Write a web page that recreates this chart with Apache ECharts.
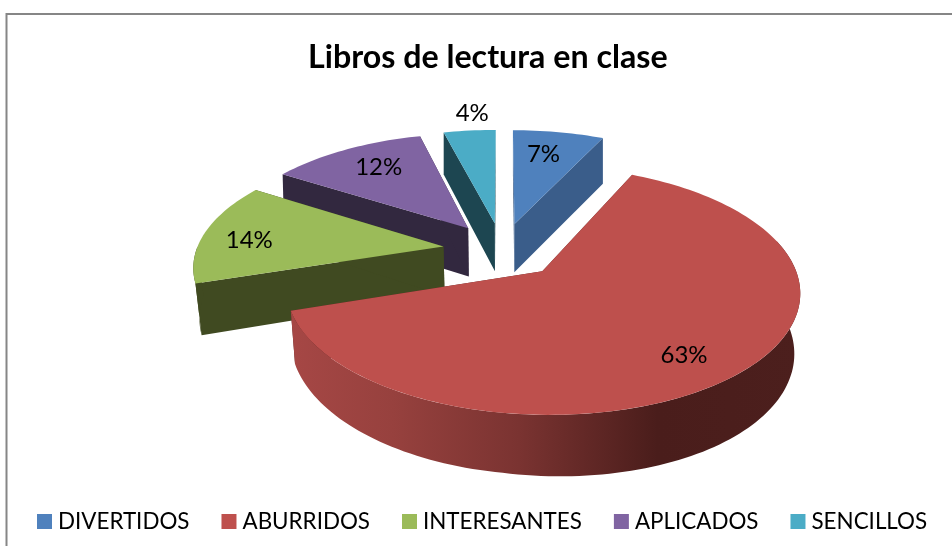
<!DOCTYPE html>
<html>
<head>
<meta charset="utf-8">
<style>html,body{margin:0;padding:0;background:#fff}#c{width:952px;height:546px}</style>
<script src="https://cdn.jsdelivr.net/npm/echarts@6/dist/echarts.min.js"></script>
</head>
<body>
<div id="c"></div>
<script>
const categories = ['DIVERTIDOS', 'ABURRIDOS', 'INTERESANTES', 'APLICADOS', 'SENCILLOS'];
const values = [7, 63, 14, 12, 4];
const topColors = ['#4F81BD', '#BE504D', '#9BBB59', '#8064A2', '#4BACC6'];
const sideColors = ['#3A5D8A', '#5A2624', '#404A21', '#32283F', '#1D4651'];
const labelRadius = [0.7, 0.76, 0.85, 0.75, 1.3];
const labelShift = [[-3, -3], [-2, 8], [9, 6], [5, -1], [9, 6]];

const view = { cx: 502, cy: 250, rx: 247, ry: 115, k: 0.15, explode: 0.24, depth: 49.5, bottomScale: 0.98, skew: 7 };
const total = values.reduce((a, b) => a + b, 0);
const rad = d => d * Math.PI / 180;

function project(u, v, bottom) {
  const s = 1 / (1 + view.k * v);
  let x = view.cx + view.rx * u * s;
  let y = view.cy - view.ry * v * s;
  if (bottom) {
    const scale = view.bottomScale + (1 - view.bottomScale) * Math.max(0, Math.min(1, v));
    x = view.cx + (x - view.cx) * scale;
    y += view.depth * s + view.skew * Math.max(u, 0);
  }
  return [x, y];
}

function sliceAngles(index) {
  let before = 0;
  for (let i = 0; i < index; i++) before += values[i];
  return { a0: before / total * 360, a1: (before + values[index]) / total * 360 };
}

function renderSlice(index, api) {
  const value = api.value(0);
  const { a0, a1 } = sliceAngles(index);
  const mid = rad((a0 + a1) / 2);
  const ox = Math.sin(mid) * view.explode, oy = Math.cos(mid) * view.explode;
  const rim = (deg, bottom) => project(ox + Math.sin(rad(deg)), oy + Math.cos(rad(deg)), bottom);
  const apexTop = project(ox, oy, false), apexBot = project(ox, oy, true);
  const arc = (from, to, bottom) => {
    const n = Math.max(2, Math.ceil(Math.abs(to - from) / 1.5)), pts = [];
    for (let i = 0; i <= n; i++) pts.push(rim(from + (to - from) * i / n, bottom));
    return pts;
  };
  const children = [];
  const side = sideColors[index];
  children.push({ type: 'polygon', shape: { points: [apexTop, rim(a0, false), rim(a0, true), apexBot] }, style: { fill: side } });
  children.push({ type: 'polygon', shape: { points: [apexTop, rim(a1, false), rim(a1, true), apexBot] }, style: { fill: side } });
  const w0 = Math.max(a0, 75), w1 = Math.min(a1, 270);
  if (w1 > w0) {
    const wallFill = index === 1
      ? new echarts.graphic.LinearGradient(290, 0, 800, 0, [
          { offset: 0, color: '#A64745' }, { offset: 0.2, color: '#97413E' },
          { offset: 0.45, color: '#7A3331' }, { offset: 0.72, color: '#4A1D1B' }, { offset: 1, color: '#4C1F1D' }
        ], true)
      : side;
    children.push({ type: 'polygon', shape: { points: arc(w0, w1, false).concat(arc(w1, w0, true)) }, style: { fill: wallFill } });
  }
  children.push({ type: 'polygon', shape: { points: [apexTop].concat(arc(a0, a1, false)) }, style: { fill: topColors[index] } });
  const lf = labelRadius[index];
  const lp = project(ox + Math.sin(mid) * lf, oy + Math.cos(mid) * lf, false);
  children.push({
    type: 'text',
    style: {
      text: Math.round(value / total * 100) + '%', x: lp[0] + labelShift[index][0], y: lp[1] + labelShift[index][1],
      align: 'center', verticalAlign: 'middle', fill: '#000',
      font: '24px Lato, "Open Sans", sans-serif'
    }
  });
  return { type: 'group', children };
}

const series = categories.map((name, i) => {
  const { a0, a1 } = sliceAngles(i);
  return {
    name, type: 'custom', coordinateSystem: 'none',
    z: 10 - Math.cos(rad((a0 + a1) / 2)),
    itemStyle: { color: topColors[i] },
    data: [[values[i]]],
    renderItem: (params, api) => renderSlice(i, api)
  };
});

const chart = echarts.init(document.getElementById('c'), null, { renderer: 'canvas' });
chart.setOption({
  animation: false,
  backgroundColor: '#fff',
  title: {
    text: 'Libros de lectura en clase', left: 308, top: 42, padding: 0,
    textStyle: { fontFamily: 'Lato, "Open Sans", sans-serif', fontSize: 32.2, fontWeight: 'bold', color: '#000' }
  },
  legend: {
    data: categories, left: 37, top: 510.5, padding: 0, itemGap: 32, itemWidth: 15, itemHeight: 15,
    icon: 'rect', selectedMode: false,
    textStyle: { fontFamily: 'Lato, "Open Sans", sans-serif', fontSize: 22.4, color: '#000', padding: [0, 0, 0, 1] }
  },
  graphic: [
    { type: 'polyline', silent: true, shape: { points: [[6.5, 546], [6.5, 14], [952, 14]] }, style: { stroke: '#868686', lineWidth: 2, fill: null } }
  ],
  series
});
</script>
</body>
</html>
